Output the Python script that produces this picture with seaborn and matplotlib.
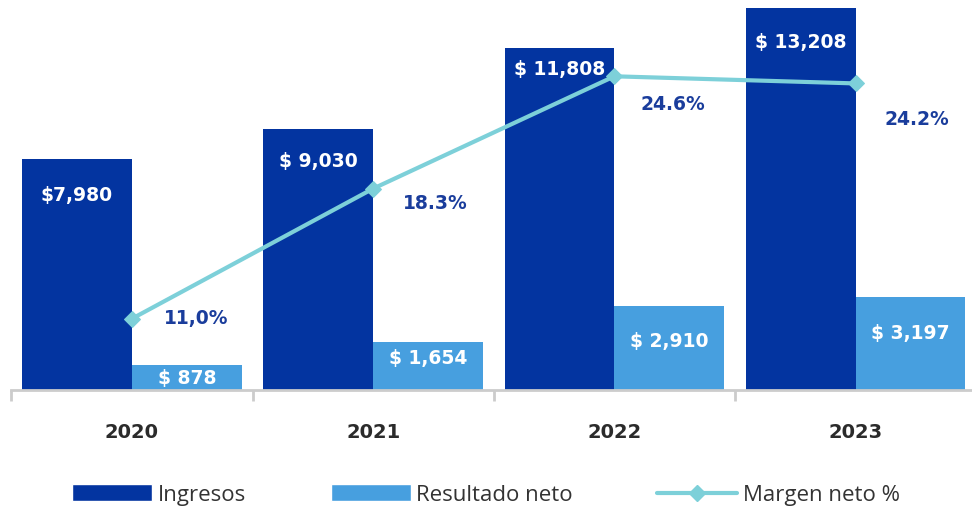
import matplotlib
matplotlib.use("Agg")
import matplotlib.pyplot as plt
import seaborn as sns
import pandas as pd
from matplotlib.patches import Patch
from matplotlib.lines import Line2D

years = ["2020", "2021", "2022", "2023"]
ingresos = [7980, 9030, 11808, 13208]
resultado = [878, 1654, 2910, 3197]
margen = [11.0, 18.3, 24.6, 24.2]
ing_labels = ["$7,980", "$ 9,030", "$ 11,808", "$ 13,208"]
res_labels = ["$ 878", "$ 1,654", "$ 2,910", "$ 3,197"]
mar_labels = ["11,0%", "18.3%", "24.6%", "24.2%"]

c_ing = "#0334a0"
c_res = "#479fdf"
c_line = "#7dd0d9"
c_txt = "#1a3d9c"

sns.set_theme(style="white")
plt.rcParams["font.family"] = ["Open Sans", "DejaVu Sans"]
lab_font = "DejaVu Sans"

df = pd.DataFrame({
    "year": years * 2,
    "valor": ingresos + resultado,
    "serie": ["Ingresos"] * 4 + ["Resultado neto"] * 4,
})

fig = plt.figure(figsize=(9.72, 5.08), dpi=100)
ax = fig.add_axes([11.3 / 972, 118 / 508, 965 / 972, 385 / 508])
sns.barplot(data=df, x="year", y="valor", hue="serie", palette=[c_ing, c_res],
            width=0.91, gap=0, saturation=1, legend=False, linewidth=0, ax=ax)
ax.set_xlim(-0.5, 3.5)
ax.set_ylim(0, 13300)
ax.set_xlabel("")
ax.set_ylabel("")
ax.set_yticks([])
for s in ["top", "left", "right"]:
    ax.spines[s].set_visible(False)
ax.spines["bottom"].set_color("#cccccc")
ax.spines["bottom"].set_linewidth(2)
ax.set_xticks(range(4))
ax.set_xticklabels(years, fontsize=14, fontweight="bold", color="#2b2b2b", family=lab_font)
ax.tick_params(axis="x", which="major", length=0, pad=24)
ax.set_xticks([-0.5, 0.5, 1.5, 2.5], minor=True)
ax.tick_params(axis="x", which="minor", bottom=True, length=8, width=2, color="#cccccc")

bw = 0.455
ing_off = [-26, -24, -15, -25]
res_off = [-10, -11.5, -26, -26]
for i in range(4):
    ax.annotate(ing_labels[i], (i - bw / 2, ingresos[i]), xytext=(0, ing_off[i]),
                textcoords="offset points", ha="center", va="center",
                color="white", fontsize=13.5, fontweight="bold", family=lab_font)
    ax.annotate(res_labels[i], (i + bw / 2, resultado[i]), xytext=(0, res_off[i]),
                textcoords="offset points", ha="center", va="center",
                color="white", fontsize=13.5, fontweight="bold", family=lab_font)

ax2 = ax.twinx()
sns.lineplot(x=list(range(4)), y=margen, ax=ax2, color=c_line, linewidth=3,
             marker="D", markersize=8, markeredgecolor=c_line)
ax2.set_ylim(7.0, 28.6)
ax2.set_xlim(-0.5, 3.5)
ax2.set_yticks([])
ax2.set_ylabel("")
for s in ax2.spines.values():
    s.set_visible(False)
yoffs = [0, -11, -20, -26]
xoffs = [46, 45, 42, 44]
for i in range(4):
    ax2.annotate(mar_labels[i], (i, margen[i]), xytext=(xoffs[i], yoffs[i]),
                 textcoords="offset points", ha="center", va="center",
                 color=c_txt, fontsize=13.5, fontweight="bold", family=lab_font)

handles = [
    Patch(facecolor=c_ing, label="Ingresos"),
    Patch(facecolor=c_res, label="Resultado neto"),
    Line2D([0], [0], color=c_line, linewidth=3, marker="D", markersize=8, label="Margen neto %"),
]
fig.legend(handles=handles, loc="center", bbox_to_anchor=(0.5, 13 / 508), ncol=3,
           frameon=False, fontsize=16, handlelength=3.6, handleheight=0.8,
           columnspacing=3.8, handletextpad=0.25, labelcolor="#333333")

fig.savefig("out.png", dpi=100)
